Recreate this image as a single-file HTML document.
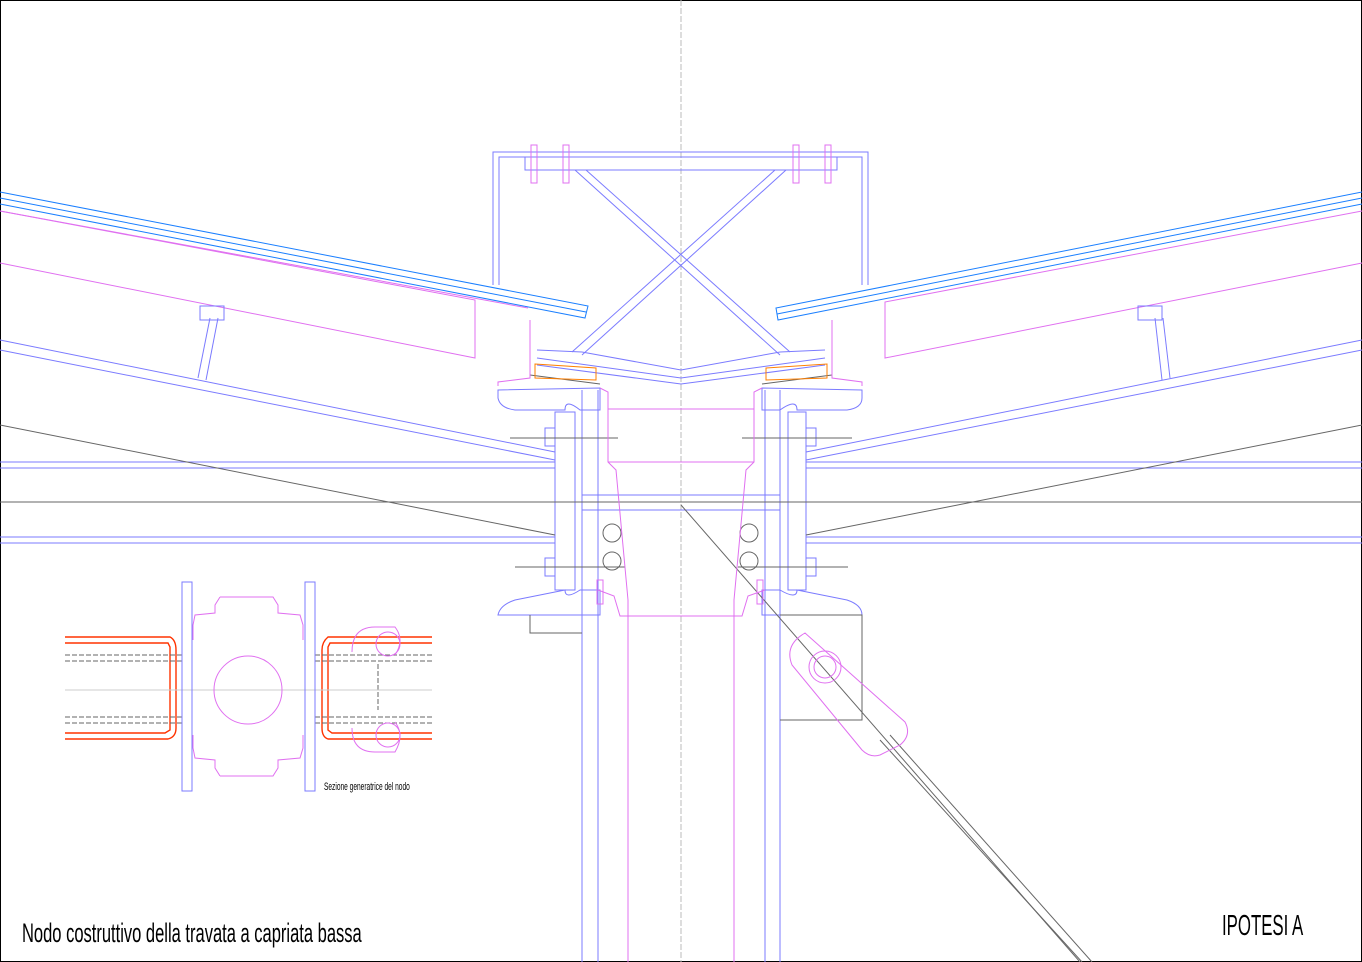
<!DOCTYPE html>
<html><head><meta charset="utf-8"><style>
html,body{margin:0;padding:0;background:#fff}
svg{display:block}
text{font-family:"Liberation Sans",sans-serif}
</style></head><body>
<svg width="1362" height="962" viewBox="0 0 1362 962" xmlns="http://www.w3.org/2000/svg" fill="none" stroke-width="1">
<rect x="0.5" y="0.5" width="1361" height="961" stroke="#000"/>
<line x1="681" y1="0" x2="681" y2="962" stroke="#bbb" stroke-dasharray="6,2"/>

<g stroke="#1a7fff">
<polyline points="0,192 588,306 585,318 0,204"/>
<line x1="0" y1="198" x2="586" y2="312"/>
<polyline points="1362,192 776,308 778,320 1362,204"/>
<line x1="1362" y1="198" x2="777" y2="314"/>
</g>
<g stroke="#e070f0">
<polyline points="0,211 475,300 475,358 0,263"/>
<polyline points="1362,211 885,302 885,358 1362,263"/>
<line x1="0" y1="211" x2="528" y2="308"/>
</g>
<g stroke="#7b7bff">
<polyline points="493,285 493,152 868,152 868,285"/>
<polyline points="499,285 499,157 862,157 862,285"/>
<rect x="525" y="157" width="312" height="13"/>
<line x1="575" y1="170" x2="780" y2="355"/>
<line x1="586" y1="170" x2="790" y2="352"/>
<line x1="786" y1="170" x2="582" y2="355"/>
<line x1="775" y1="170" x2="572" y2="352"/>
<polyline points="537,350 582,352 681,370 780,352 825,350"/>
<polyline points="537,358 681,378 825,358"/>
<polyline points="537,365 681,384"/>
<polyline points="825,365 681,384"/>
<line x1="0" y1="340" x2="555" y2="452"/>
<line x1="0" y1="350" x2="555" y2="460"/>
<line x1="1362" y1="340" x2="806" y2="452"/>
<line x1="1362" y1="350" x2="806" y2="460"/>
<line x1="0" y1="462" x2="555" y2="462"/><line x1="0" y1="468" x2="555" y2="468"/>
<line x1="806" y1="462" x2="1362" y2="462"/><line x1="806" y1="468" x2="1362" y2="468"/>
<line x1="0" y1="537" x2="555" y2="537"/><line x1="0" y1="543" x2="555" y2="543"/>
<line x1="806" y1="537" x2="1362" y2="537"/><line x1="806" y1="543" x2="1362" y2="543"/>
<line x1="582" y1="495" x2="780" y2="495"/><line x1="582" y1="510" x2="780" y2="510"/>
<line x1="198" y1="378" x2="210" y2="318"/><line x1="206" y1="380" x2="218" y2="318"/>
<line x1="1155" y1="318" x2="1162" y2="380"/><line x1="1163" y1="318" x2="1170" y2="378"/>
<rect x="200" y="306" width="24" height="14"/><rect x="1138" y="306" width="24" height="14"/>
<line x1="582" y1="390" x2="582" y2="962"/><line x1="598" y1="390" x2="598" y2="962"/>
<line x1="765" y1="390" x2="765" y2="962"/><line x1="780" y1="390" x2="780" y2="962"/>
<rect x="555" y="412" width="20" height="178"/><rect x="788" y="412" width="18" height="178"/>
<path d="M498,390 L600,388 L600,410 L580,410 Q565,398 565,410 L515,410 Q500,408 498,398Z"/>
<path d="M862,390 L762,388 L762,410 L780,410 Q797,398 797,410 L847,410 Q862,408 862,398Z"/>
<path d="M498,615 L600,615 L600,590 L580,590 Q565,600 565,590 L515,600 Q500,605 498,615Z"/>
<path d="M862,615 L762,615 L762,590 L780,590 Q797,600 797,590 L847,600 Q862,605 862,615Z"/>
<rect x="545" y="428" width="10" height="18"/><rect x="545" y="558" width="10" height="18"/>
<rect x="806" y="428" width="10" height="18"/><rect x="806" y="558" width="10" height="18"/>
</g>
<g stroke="#666">
<line x1="0" y1="502" x2="1362" y2="502"/>
<line x1="0" y1="425" x2="555" y2="535"/>
<line x1="1362" y1="425" x2="806" y2="535"/>
<line x1="510" y1="438" x2="618" y2="438"/><line x1="742" y1="438" x2="852" y2="438"/>
<line x1="515" y1="567" x2="625" y2="567"/><line x1="738" y1="567" x2="848" y2="567"/>
<circle cx="612" cy="533" r="9"/><circle cx="612" cy="561" r="9"/>
<circle cx="749" cy="533" r="9"/><circle cx="749" cy="561" r="9"/>
<line x1="681" y1="505" x2="1080" y2="962"/>
<line x1="880" y1="740" x2="1082" y2="962"/><line x1="890" y1="735" x2="1092" y2="962"/>
<polyline points="780,615 862,615 862,720 780,720"/>
<polyline points="530,615 530,633 582,633"/>
<line x1="530" y1="375" x2="600" y2="384"/><line x1="762" y1="384" x2="832" y2="375"/>
</g>
<g stroke="#e070f0">
<polyline points="600,388 608,392 608,462 616,470 628,600 628,962"/>
<polyline points="762,388 754,392 754,462 746,470 734,600 734,962"/>
<line x1="608" y1="409" x2="754" y2="409"/><line x1="608" y1="462" x2="754" y2="462"/>
<polyline points="598,590 614,596 620,616 742,616 748,596 765,590"/>
<polyline points="530,320 530,378 498,382 498,386"/>
<polyline points="832,320 832,378 862,382 862,386"/>
<path d="M805,633 L905,722 Q912,735 900,745 L880,755 Q870,758 862,750 L792,665 Q784,645 805,633Z"/>
<circle cx="825" cy="667" r="16"/><circle cx="825" cy="667" r="11"/>
<rect x="531" y="145" width="6" height="38"/><rect x="563" y="145" width="6" height="38"/>
<rect x="793" y="145" width="6" height="38"/><rect x="825" y="145" width="6" height="38"/>
<rect x="597" y="580" width="6" height="24"/><rect x="757" y="580" width="6" height="24"/>
</g>
<g stroke="#ff7f00">
<polygon points="535,364 596,368 596,380 535,378"/>
<polygon points="766,368 827,364 827,378 766,380"/>
</g>

<g stroke="#ff3300" stroke-width="1.4">
<path d="M65,637 L170,637 Q176,640 176,650 L176,728 Q176,737 168,739 L65,739"/>
<path d="M65,643 L168,643 L170,647 L170,730 L165,733 L65,733"/>
<path d="M432,637 L328,637 Q322,642 322,650 L322,728 Q322,737 328,739 L432,739"/>
<path d="M432,643 L330,643 L328,647 L328,730 L332,733 L432,733"/>
</g>
<g stroke="#666" stroke-dasharray="5,2">
<line x1="65" y1="655" x2="182" y2="655"/><line x1="65" y1="661" x2="182" y2="661"/>
<line x1="65" y1="717" x2="182" y2="717"/><line x1="65" y1="723" x2="182" y2="723"/>
<line x1="315" y1="655" x2="432" y2="655"/><line x1="315" y1="661" x2="432" y2="661"/>
<line x1="315" y1="717" x2="432" y2="717"/><line x1="315" y1="723" x2="432" y2="723"/>
<polyline points="378,664 378,710"/>
</g>
<line x1="65" y1="690" x2="432" y2="690" stroke="#ccc"/>
<g stroke="#7b7bff">
<rect x="182" y="582" width="10" height="209"/><rect x="305" y="582" width="10" height="209"/>
</g>
<g stroke="#e070f0">
<path d="M220,597 L273,597 L278,605 L278,613 L300,615 L303,625 L303,640"/>
<path d="M220,597 L215,605 L215,613 L195,615 L193,625 L193,640"/>
<path d="M220,776 L273,776 L278,768 L278,760 L300,758 L303,748 L303,735"/>
<path d="M220,776 L215,768 L215,760 L195,758 L193,748 L193,735"/>
<circle cx="248" cy="690" r="34"/>
<path d="M352,652 Q352,627 375,627 L395,627 Q405,640 395,655"/>
<path d="M352,728 Q352,752 375,752 L395,752 Q405,735 395,722"/>
<circle cx="388" cy="644" r="12"/><circle cx="388" cy="735" r="12"/>
</g>
<text x="324" y="790" font-size="11" fill="#000" transform="translate(324,790) scale(0.6,1) translate(-324,-790)">Sezione generatrice del nodo</text>

<text x="22" y="942" font-size="27" fill="#000" transform="translate(22,942) scale(0.612,1) translate(-22,-942)">Nodo costruttivo della travata a capriata bassa</text>
<text x="1222" y="935" font-size="29" fill="#000" transform="translate(1222,935) scale(0.58,1) translate(-1222,-935)">IPOTESI  A</text>
</svg>
</body></html>
